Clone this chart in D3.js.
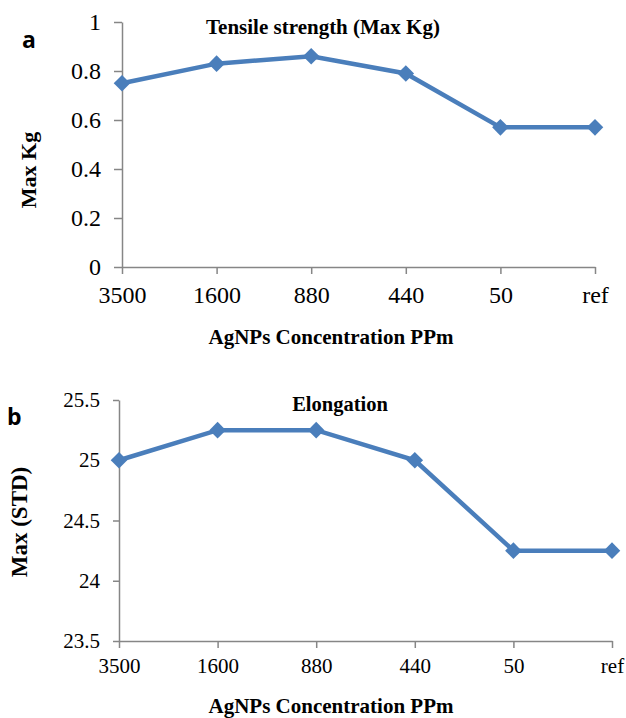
<!DOCTYPE html>
<html>
<head>
<meta charset="utf-8">
<script src="https://cdn.jsdelivr.net/npm/d3@7"></script>
<style>
  body { margin: 0; background: #fff; }
  text { font-family: "Liberation Serif", "Times New Roman", serif; }
</style>
</head>
<body>
<div id="chart"></div>
<script>
var categories = ["3500", "1600", "880", "440", "50", "ref"];
var tensileValues = [0.75, 0.83, 0.86, 0.79, 0.57, 0.57];
var elongationValues = [25.0, 25.25, 25.25, 25.0, 24.25, 24.25];
var tensileTicks = [0, 0.2, 0.4, 0.6, 0.8, 1];
var elongationTicks = [23.5, 24, 24.5, 25, 25.5];

var width = 626, height = 718;
var lineColor = "#4a7ebb", axisColor = "#868686";

var svg = d3.select("#chart").append("svg")
    .attr("width", width)
    .attr("height", height);

function drawPanel(opts) {
    var x = d3.scalePoint()
        .domain(categories)
        .range([opts.left, opts.right]);
    var y = d3.scaleLinear()
        .domain([opts.ticks[0], opts.ticks[opts.ticks.length - 1]])
        .range([opts.bottom, opts.top]);

    var g = svg.append("g");

    // y axis
    var yAxis = g.append("g")
        .attr("transform", "translate(" + opts.left + ",0)")
        .attr("font-family", "'Liberation Serif', serif")
        .call(d3.axisLeft(y).tickValues(opts.ticks).tickSize(opts.tickLen).tickSizeOuter(0)
            .tickFormat(function(d){ return d3.format("")(+d.toFixed(2)); }));
    yAxis.attr("font-family", "'Liberation Serif', serif");
    yAxis.selectAll("text")
        .attr("font-size", opts.tickSize)
        .attr("fill", "#000")
        .attr("x", -opts.yTickPad);

    // x axis
    var xAxis = g.append("g")
        .attr("transform", "translate(0," + opts.bottom + ")")
        .call(d3.axisBottom(x).tickSize(7).tickSizeOuter(0));
    xAxis.attr("font-family", "'Liberation Serif', serif");
    xAxis.selectAll("text")
        .attr("font-size", opts.tickSize)
        .attr("fill", "#000")
        .attr("y", opts.xTickPad)
        .attr("dy", 0);

    g.selectAll(".domain, .tick line")
        .attr("stroke", axisColor)
        .attr("stroke-width", 1.5);

    var line = d3.line()
        .x(function(d, i) { return x(categories[i]); })
        .y(function(d) { return y(d); });

    g.append("path")
        .datum(opts.values)
        .attr("fill", "none")
        .attr("stroke", lineColor)
        .attr("stroke-width", 4.5)
        .attr("d", line);

    g.selectAll(".marker")
        .data(opts.values)
        .enter()
        .append("path")
        .attr("class", "marker")
        .attr("d", d3.symbol().type(d3.symbolDiamond2).size(175))
        .attr("fill", lineColor)
        .attr("transform", function(d, i) {
            return "translate(" + x(categories[i]) + "," + y(d) + ")";
        });

    // title
    g.append("text")
        .attr("x", opts.titleX)
        .attr("y", opts.titleY)
        .attr("text-anchor", "middle")
        .attr("font-size", opts.titleSize)
        .attr("font-weight", "bold")
        .text(opts.title);

    // y label
    g.append("text")
        .attr("transform", "translate(" + opts.yLabelX + "," + opts.yLabelY + ") rotate(-90)")
        .attr("text-anchor", "middle")
        .attr("font-size", opts.yLabelSize)
        .attr("font-weight", "bold")
        .text(opts.yLabel);

    // x label
    g.append("text")
        .attr("x", 331)
        .attr("y", opts.xLabelY)
        .attr("text-anchor", "middle")
        .attr("font-size", "21px")
        .attr("font-weight", "bold")
        .text("AgNPs Concentration PPm");

    // panel letter
    g.append("text")
        .attr("x", opts.letterX)
        .attr("y", opts.letterY)
        .attr("font-size", "23px")
        .attr("font-weight", "bold")
        .style("font-family", "'Open Sans', 'DejaVu Sans', sans-serif")
        .text(opts.letter);
}

drawPanel({
    values: tensileValues, ticks: tensileTicks,
    left: 122, right: 595, top: 22, bottom: 267,
    tickSize: "24px", tickLen: 8, yTickPad: 21, xTickPad: 36,
    title: "Tensile strength (Max Kg)", titleX: 323, titleY: 34, titleSize: "21px",
    yLabel: "Max Kg", yLabelX: 36, yLabelY: 170, yLabelSize: "22px",
    xLabelY: 344,
    letter: "a", letterX: 22, letterY: 48
});

drawPanel({
    values: elongationValues, ticks: elongationTicks,
    left: 119, right: 612, top: 400, bottom: 641,
    tickSize: "21px", tickLen: 6, yTickPad: 19, xTickPad: 32,
    title: "Elongation", titleX: 340, titleY: 411, titleSize: "20.5px",
    yLabel: "Max (STD)", yLabelX: 27, yLabelY: 522, yLabelSize: "23px",
    xLabelY: 713,
    letter: "b", letterX: 7, letterY: 425
});
</script>
</body>
</html>
